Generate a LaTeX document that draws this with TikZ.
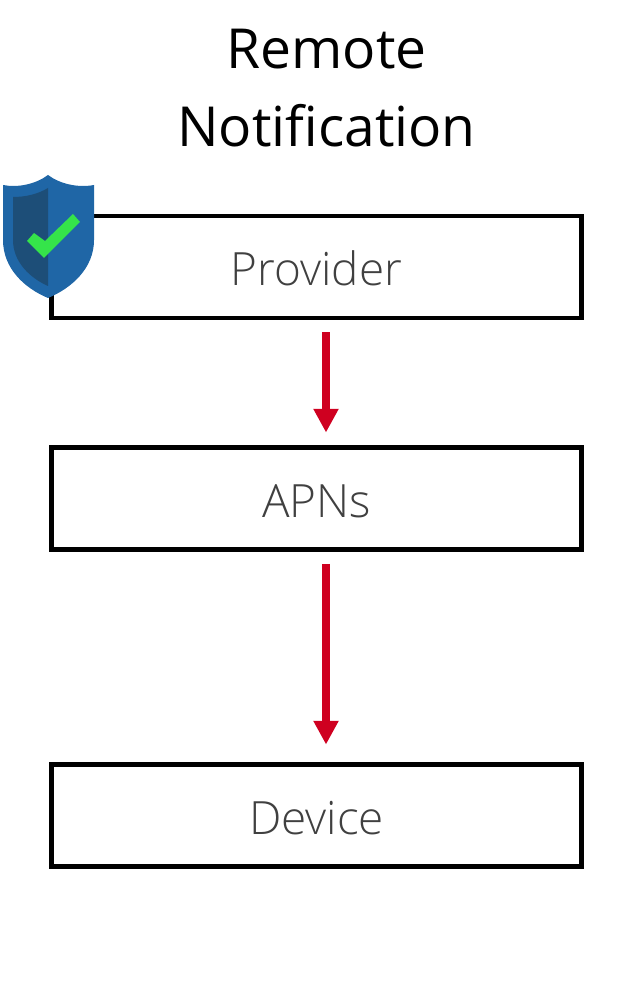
\documentclass[tikz,border=0pt]{standalone}
\usepackage{fontspec}
\setmainfont{Open Sans}
\newfontfamily\thinfont{Open Sans Light}
\usetikzlibrary{arrows.meta}
\definecolor{shieldblue}{HTML}{1F66A6}
\definecolor{shielddark}{HTML}{1D4E78}
\definecolor{tickgreen}{HTML}{35E44A}
\definecolor{arrowred}{HTML}{CF0020}
\tikzset{
	stage/.style={draw=black,line width=2.8pt,minimum width=10.62cm,minimum height=2.04cm,inner sep=0pt,text height=21.6pt,text depth=0pt,font=\thinfont\fontsize{26.1}{26.1}\selectfont,text=black!75},
	flow/.style={-{Triangle[width=13.5pt,length=13.5pt]},arrowred,line width=4pt},
	title/.style={inner sep=0pt,font=\fontsize{31.4}{44}\selectfont,align=center}
}
\begin{document}
\begin{tikzpicture}[x=0.02cm,y=-0.02cm]
	\useasboundingbox (0,0) rectangle (630,982);
	\node[title] (heading) at (326.5,88) {Remote\\Notification};
	\node[stage] (provider) at (316.5,267) {Provider};
	\node[stage] (apns) at (316.5,498.5) {APNs};
	\node[stage] (device) at (316.5,815.5) {Device};
	\draw[flow] ([xshift=0.19cm,yshift=-0.24cm]provider.south) -- ([xshift=0.19cm,yshift=0.25cm]apns.north);
	\draw[flow] ([xshift=0.19cm,yshift=-0.24cm]apns.south) -- ([xshift=0.19cm,yshift=0.35cm]device.north);
	% shield
	\fill[shieldblue] (48,175) .. controls (60,184) and (78,188) .. (94,185) -- (94,240) .. controls (94,268) and (72,288) .. (48,298) .. controls (24,288) and (3,268) .. (3,240) -- (3,185) .. controls (18,188) and (36,184) .. (48,175) -- cycle;
	\fill[shielddark] (48,188) .. controls (38,194) and (26,197) .. (13,197) -- (13,240) .. controls (13,262) and (30,278) .. (48,286) -- cycle;
	\fill[tickgreen] (27,241) -- (34,233) -- (45,241) -- (73,214) -- (80,222) -- (44,258) -- cycle;
\end{tikzpicture}
\end{document}
